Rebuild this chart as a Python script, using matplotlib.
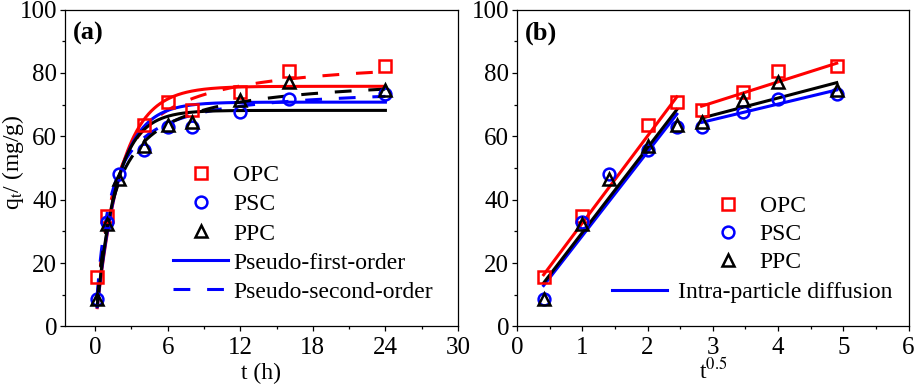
import numpy as np
import matplotlib
matplotlib.use("Agg")
import matplotlib.pyplot as plt
from matplotlib.ticker import MultipleLocator
from matplotlib.lines import Line2D

plt.rcParams['font.family'] = ['Liberation Serif', 'DejaVu Serif']
plt.rcParams['mathtext.fontset'] = 'stix'

# contact time (h)
t = np.array([1 / 6, 1, 2, 4, 6, 8, 12, 16, 24])

# measured uptake q_t (mg/g)
q_opc = np.array([15.6, 34.9, np.nan, 63.5, 70.9, 68.2, 74.0, 80.7, 82.2])
q_psc = np.array([8.7, 33.0, 48.2, 55.6, 62.8, 63.0, 67.7, 71.9, 73.5])
q_ppc = np.array([8.6, 32.4, 46.7, 56.9, 63.5, 64.5, 71.4, 77.2, 74.6])

names = ['OPC', 'PSC', 'PPC']
colors = ['#ff0000', '#0000ff', '#000000']
markers = ['s', 'o', '^']

# pseudo-first-order: qe, k1
pfo_qe = [75.8, 70.8, 68.2]
pfo_k = [0.49, 0.55, 0.60]
# pseudo-second-order: qe, k2
pso_qe = [85.5, 76.0, 79.5]
pso_k = [0.00772, 0.0118, 0.00855]

# intra-particle diffusion, two stages: slope, intercept
ipd1_k = [27.5, 26.5, 26.8]
ipd1_c = [5.1, 2.1, 2.8]
ipd2_k = [6.55, 4.95, 5.4]
ipd2_c = [51.0, 50.4, 50.5]

qs = [q_opc, q_psc, q_ppc]

fig = plt.figure(figsize=(9.15, 3.85), dpi=100)
ax1 = fig.add_axes([0.0710, 0.152, 0.4295, 0.823])
ax2 = fig.add_axes([0.565, 0.152, 0.428, 0.823])

lw = 2.2
ms = 8.5
mew = 1.8
dash = (5.5, 5.5)

tt = np.linspace(t[0], t[-1], 400)
for i in range(3):
    pfo = pfo_qe[i] * (1 - np.exp(-pfo_k[i] * tt))
    a = pso_qe[i] * pso_k[i] * tt
    pso = pso_qe[i] * a / (1 + a)
    ax1.plot(tt, pfo, color=colors[i], lw=lw, zorder=2)
    ax1.plot(tt, pso, color=colors[i], lw=lw, dashes=dash, zorder=2)
for i in range(3):
    ax1.plot(t, qs[i], ls='none', marker=markers[i], ms=ms, mfc='none',
             mec=colors[i], mew=mew, zorder=3)

st = np.sqrt(t)
s1 = st[:5]
s2 = st[5:]
for i in range(3):
    ax2.plot(s1, ipd1_k[i] * s1 + ipd1_c[i], color=colors[i], lw=lw, zorder=2)
    ax2.plot(s2, ipd2_k[i] * s2 + ipd2_c[i], color=colors[i], lw=lw, zorder=2)
for i in range(3):
    ax2.plot(st, qs[i], ls='none', marker=markers[i], ms=ms, mfc='none',
             mec=colors[i], mew=mew, zorder=3)

fs = 18
lfs = 17
for ax in (ax1, ax2):
    ax.set_ylim(0, 100)
    ax.yaxis.set_major_locator(MultipleLocator(20))
    ax.yaxis.set_minor_locator(MultipleLocator(10))
    ax.tick_params(which='major', direction='out', length=3.6, width=0.9,
                   labelsize=fs)
    ax.tick_params(which='minor', direction='out', length=2.2, width=0.9)
    ax.tick_params(axis='x', pad=4)
    ax.tick_params(axis='y', pad=2)
    for sp in ax.spines.values():
        sp.set_linewidth(0.9)

ax1.set_xlim(-2.5, 30)
ax1.xaxis.set_major_locator(MultipleLocator(6))
ax1.xaxis.set_minor_locator(MultipleLocator(3))
ax2.set_xlim(0, 6)
ax2.xaxis.set_major_locator(MultipleLocator(1))
ax2.xaxis.set_minor_locator(MultipleLocator(0.5))

ax1.set_xlabel('t (h)', fontsize=lfs, labelpad=3)
ax1.set_ylabel(r'q$_\mathrm{t}$/ (mg/g)', fontsize=lfs)
ax1.yaxis.set_label_coords(-0.10, 0.52)
ax2.set_xlabel(r't$^{0.5}$', fontsize=lfs, labelpad=-1)

ax1.text(0.02, 0.925, '(a)', transform=ax1.transAxes, fontsize=19,
         fontweight='bold', va='center', ha='left')
ax2.text(0.02, 0.925, '(b)', transform=ax2.transAxes, fontsize=19,
         fontweight='bold', va='center', ha='left')

pts = [Line2D([], [], ls='none', marker=markers[i], ms=ms, mfc='none',
              mec=colors[i], mew=mew) for i in range(3)]
h_pfo = Line2D([], [], color='#0000ff', lw=lw)
h_pso = Line2D([], [], color='#0000ff', lw=lw, dashes=dash)

ax1.legend(pts + [h_pfo, h_pso],
           names + ['Pseudo-first-order', 'Pseudo-second-order'],
           loc='upper left', bbox_to_anchor=(0.275, 0.51), frameon=False,
           fontsize=lfs, handlelength=2.33, handletextpad=0.21,
           labelspacing=0.32, borderpad=0, borderaxespad=0)

leg = ax2.legend(pts, names, loc='upper left', bbox_to_anchor=(0.508, 0.414),
                 frameon=False, fontsize=lfs, handlelength=1.0,
                 handletextpad=0.86, labelspacing=0.28, borderpad=0,
                 borderaxespad=0)
ax2.add_artist(leg)
ax2.legend([Line2D([], [], color='#0000ff', lw=lw)], ['Intra-particle diffusion'],
           loc='upper left', bbox_to_anchor=(0.242, 0.142), frameon=False,
           fontsize=lfs, handlelength=2.33, handletextpad=0.47, borderpad=0,
           borderaxespad=0)

fig.savefig('out.png', dpi=100)
